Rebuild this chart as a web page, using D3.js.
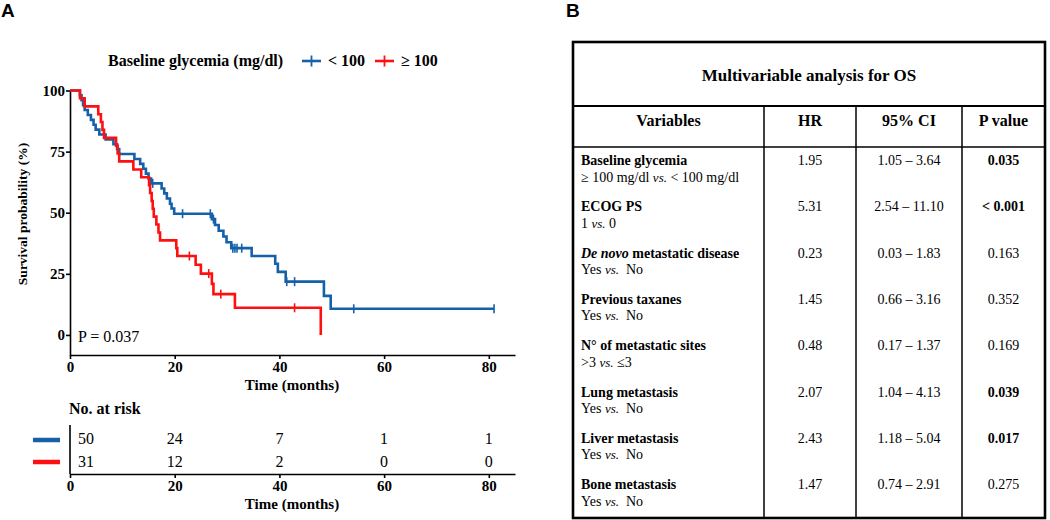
<!DOCTYPE html>
<html><head><meta charset="utf-8">
<script src="https://cdn.jsdelivr.net/npm/d3@7"></script>
<style>
body{margin:0;background:#fff}
svg{display:block}
text{font-family:"Liberation Serif","Times New Roman",serif;fill:#000}
</style>
</head><body>
<svg id="c" width="1050" height="520"></svg>
<script>
// ---------- data ----------
const xTicks = [0, 20, 40, 60, 80];
const yTicks = [0, 25, 50, 75, 100];

const blueTimes = [1.9,2.2,2.5,2.8,3.4,4.0,4.5,4.9,5.6,6.8, 8.3,9.0,9.4, 12.3,13.4,14.0,14.5,15.0,15.5, 17.5,18.0,18.5,19.1,19.4,19.9, 27.1,27.7,28.4,29.3,29.9,30.8, 34.7,39.2,39.7,41.2, 48.5,49.8];
const blueSurv  = [98,96,94,92,90,88,86,84,82,80, 78,76,74, 72,70,68,66,64,62, 59.9,57.9,55.8,53.7,51.7,49.6, 47.4,45.0,42.6,40.3,37.9,35.5, 32.3,29.1,25.8,21.8, 16.0,10.7];
const blueCensor = [15.8,21.5,26.8,27.4,31.1,31.5,31.9,32.8,41.4,42.9,54.2,81.0];

const redTimes = [1.9,2.8,5.4,5.9,6.2,6.5,8.8,9.1,9.4,12.1,13.6,15.1,15.3,15.6,15.8,16.0,16.5,16.9,17.2,20.3,20.5,24.0,25.0,27.1,27.4,31.5,47.9];
const redSurv  = [96.8,93.5,90.3,87.1,83.9,80.6,77.4,74.2,71.0,67.7,64.5,61.3,58.1,54.8,51.6,48.4,45.2,41.9,38.7,35.5,32.3,28.7,25.1,20.9,16.7,11.1,0];
const redCensor = [22.8,26.5,28.8,42.9];

const groupLabels = ["< 100", "≥ 100"];
const riskTimes = [0, 20, 40, 60, 80];
const riskBlue = [50, 24, 7, 1, 1];
const riskRed  = [31, 12, 2, 0, 0];

const tableColumns = ["Variables", "HR", "95% CI", "P value"];
const variables = ["Baseline glycemia","ECOG PS","De novo metastatic disease","Previous taxanes","N° of metastatic sites","Lung metastasis","Liver metastasis","Bone metastasis"];
const comparisons = ["≥ 100 mg/dl vs. < 100 mg/dl","1 vs. 0","Yes vs.  No","Yes vs.  No",">3 vs. ≤3","Yes vs.  No","Yes vs.  No","Yes vs.  No"];
const hrValues = [1.95, 5.31, 0.23, 1.45, 0.48, 2.07, 2.43, 1.47];
const ciLow  = [1.05, 2.54, 0.03, 0.66, 0.17, 1.04, 1.18, 0.74];
const ciHigh = [3.64, 11.10, 1.83, 3.16, 1.37, 4.13, 5.04, 2.91];
const pValues = ["0.035", "< 0.001", "0.163", "0.352", "0.169", "0.039", "0.017", "0.275"];
const pSignificant = [true, true, false, false, false, true, true, false];

// ---------- setup ----------
const BLUE = "#1560a8", RED = "#ff1010";
const svg = d3.select("#c");
svg.append("rect").attr("width",1050).attr("height",520).attr("fill","#fff");

// panel labels
svg.append("text").attr("x",1).attr("y",17).text("A")
  .style("font-family","'Liberation Sans',Arial,sans-serif").style("font-weight","bold").style("font-size","19px");
svg.append("text").attr("x",566).attr("y",17).text("B")
  .style("font-family","'Liberation Sans',Arial,sans-serif").style("font-weight","bold").style("font-size","19px");

// ---------- KM plot ----------
const x = d3.scaleLinear().domain([0, 85]).range([70, 515]);
const y = d3.scaleLinear().domain([-8.2, 100]).range([355, 90.5]);

const xAxis = svg.append("g").attr("transform","translate(0,355)")
  .call(d3.axisBottom(x).tickValues(xTicks).tickSize(4).tickSizeOuter(0).tickPadding(2));
const yAxis = svg.append("g").attr("transform","translate(70,0)")
  .call(d3.axisLeft(y).tickValues(yTicks).tickSize(4).tickSizeOuter(0).tickPadding(1));
[xAxis, yAxis].forEach(g => {
  g.select(".domain").attr("stroke","#000").attr("stroke-width",1.6);
  g.selectAll(".tick line").attr("stroke","#000").attr("stroke-width",1.6);
  g.selectAll(".tick text").style("font-family","'Liberation Serif',serif")
    .style("font-size","15px").style("font-weight","bold").attr("fill","#000");
});

svg.append("text").attr("x",292).attr("y",390).attr("text-anchor","middle")
  .style("font-weight","bold").style("font-size","15px").text("Time (months)");
svg.append("text").attr("transform","translate(27,214) rotate(-90)").attr("text-anchor","middle")
  .style("font-weight","bold").style("font-size","13.5px").text("Survival probability (%)");

function stepPoints(times, surv, extendTo) {
  const pts = [[0, 100]];
  times.forEach((t, i) => pts.push([t, surv[i]]));
  if (extendTo !== undefined) pts.push([extendTo, surv[surv.length - 1]]);
  return pts;
}
function levelAt(times, surv, t) {
  let s = 100;
  times.forEach((tt, i) => { if (tt <= t) s = surv[i]; });
  return s;
}
const line = d3.line().x(d => x(d[0])).y(d => y(d[1])).curve(d3.curveStepAfter);

function drawGroup(times, surv, censor, color, extendTo) {
  svg.append("path").datum(stepPoints(times, surv, extendTo))
    .attr("d", line).attr("fill","none").attr("stroke",color).attr("stroke-width",2.6);
  svg.append("g").selectAll("line").data(censor).join("line")
    .attr("x1", d => x(d)).attr("x2", d => x(d))
    .attr("y1", d => y(levelAt(times, surv, d)) - 4.5)
    .attr("y2", d => y(levelAt(times, surv, d)) + 4.5)
    .attr("stroke", color).attr("stroke-width", 1.6);
}
drawGroup(blueTimes, blueSurv, blueCensor, BLUE, d3.max(blueCensor));
drawGroup(redTimes, redSurv, redCensor, RED);

svg.append("text").attr("x",78).attr("y",342).style("font-size","16px").text("P = 0.037");

// legend
svg.append("text").attr("x",108).attr("y",66).style("font-weight","bold").style("font-size","16px")
  .text("Baseline glycemia (mg/dl)");
const legendItems = [{c:BLUE, x:302, lab:groupLabels[0]}, {c:RED, x:375, lab:groupLabels[1]}];
legendItems.forEach(it => {
  svg.append("line").attr("x1",it.x).attr("x2",it.x+19).attr("y1",61).attr("y2",61)
    .attr("stroke",it.c).attr("stroke-width",2.6);
  svg.append("line").attr("x1",it.x+9.5).attr("x2",it.x+9.5).attr("y1",55.5).attr("y2",66.5)
    .attr("stroke",it.c).attr("stroke-width",1.8);
  svg.append("text").attr("x",it.x+26).attr("y",66).style("font-weight","bold").style("font-size","16px").text(it.lab);
});

// ---------- risk table ----------
svg.append("text").attr("x",69).attr("y",414).style("font-weight","bold").style("font-size","16px").text("No. at risk");
const rAxis = svg.append("g").attr("transform","translate(0,474)")
  .call(d3.axisBottom(x).tickValues(xTicks).tickSize(4).tickSizeOuter(0).tickPadding(2));
rAxis.select(".domain").attr("stroke","#000").attr("stroke-width",1.6);
rAxis.selectAll(".tick line").attr("stroke","#000").attr("stroke-width",1.6);
rAxis.selectAll(".tick text").style("font-family","'Liberation Serif',serif")
  .style("font-size","15px").style("font-weight","bold").attr("fill","#000");
svg.append("line").attr("x1",x(0)).attr("x2",x(0)).attr("y1",425).attr("y2",474)
  .attr("stroke","#000").attr("stroke-width",1.6);
svg.append("text").attr("x",292).attr("y",509).attr("text-anchor","middle")
  .style("font-weight","bold").style("font-size","15px").text("Time (months)");

[{vals:riskBlue, c:BLUE, yl:440, yt:444}, {vals:riskRed, c:RED, yl:462, yt:467}].forEach(r => {
  svg.append("line").attr("x1",33).attr("x2",60).attr("y1",r.yl).attr("y2",r.yl)
    .attr("stroke",r.c).attr("stroke-width",4.5);
  svg.append("g").selectAll("text").data(r.vals).join("text")
    .attr("x",(d,i) => i === 0 ? x(riskTimes[i]) + 8 : x(riskTimes[i]))
    .attr("y", r.yt)
    .attr("text-anchor",(d,i) => i === 0 ? "start" : "middle")
    .style("font-size","16px").text(d => d);
});

// ---------- table B ----------
const T = {x0:573, x1:1045, y0:42, y1:518, titleB:106, headB:147};
const colX = [T.x0, 764, 856, 962, T.x1];
const tb = svg.append("g");
tb.append("rect").attr("x",T.x0).attr("y",T.y0).attr("width",T.x1-T.x0).attr("height",T.y1-T.y0)
  .attr("fill","none").attr("stroke","#000").attr("stroke-width",2.6);
tb.append("line").attr("x1",T.x0).attr("x2",T.x1).attr("y1",T.titleB).attr("y2",T.titleB)
  .attr("stroke","#000").attr("stroke-width",2);
tb.append("line").attr("x1",T.x0).attr("x2",T.x1).attr("y1",T.headB).attr("y2",T.headB)
  .attr("stroke","#000").attr("stroke-width",1.5);
colX.slice(1,4).forEach(cx => tb.append("line").attr("x1",cx).attr("x2",cx).attr("y1",T.titleB).attr("y2",T.y1)
  .attr("stroke","#000").attr("stroke-width",1.5));

tb.append("text").attr("x",(T.x0+T.x1)/2).attr("y",81).attr("text-anchor","middle")
  .style("font-weight","bold").style("font-size","17px").text("Multivariable analysis for OS");
const colC = [0,1,2,3].map(i => (colX[i]+colX[i+1])/2);
tableColumns.forEach((c,i) => tb.append("text").attr("x",colC[i]).attr("y",126).attr("text-anchor","middle")
  .style("font-weight","bold").style("font-size","16px").text(c));

variables.forEach((v,i) => {
  const by = 165 + i*46.3;
  const t1 = tb.append("text").attr("x",581).attr("y",by).style("font-weight","bold").style("font-size","14px");
  if (v.startsWith("De novo")) {
    t1.append("tspan").style("font-style","italic").text("De novo");
    t1.append("tspan").text(v.slice(7));
  } else t1.text(v);
  const t2 = tb.append("text").attr("x",581).attr("y",by+16.5).style("font-size","14px").attr("xml:space","preserve");
  const parts = comparisons[i].split("vs.");
  t2.append("tspan").text(parts[0]);
  t2.append("tspan").style("font-style","italic").style("font-size","13px").text("vs.");
  t2.append("tspan").text(parts[1]);
  tb.append("text").attr("x",colC[1]).attr("y",by).attr("text-anchor","middle").style("font-size","14px")
    .text(hrValues[i].toFixed(2));
  tb.append("text").attr("x",colC[2]).attr("y",by).attr("text-anchor","middle").style("font-size","14px")
    .text(ciLow[i].toFixed(2) + " – " + ciHigh[i].toFixed(2));
  tb.append("text").attr("x",colC[3]).attr("y",by).attr("text-anchor","middle").style("font-size","14px")
    .style("font-weight", pSignificant[i] ? "bold" : "normal").text(pValues[i]);
});
</script>
</body></html>
